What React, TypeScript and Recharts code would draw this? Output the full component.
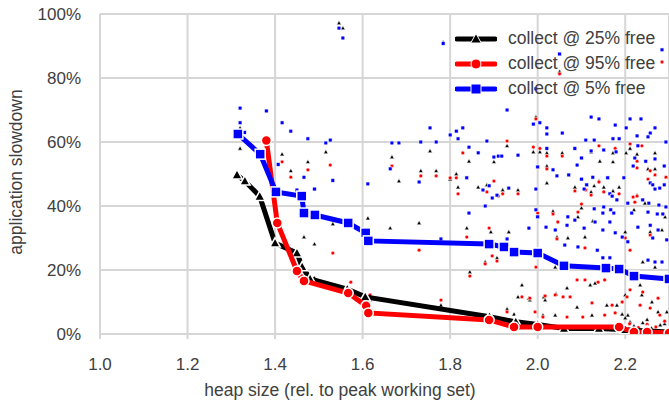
import { CartesianGrid, Label, Scatter, ScatterChart, XAxis, YAxis } from "recharts";

type Pt = { x: number; y: number };
const pts = (a: number[][]): Pt[] => a.map(([x, y]) => ({ x, y }));

/* main curves: heap size vs slowdown (%) */
const collect25 = pts([
  [1.313, 49.7], [1.331, 47.8], [1.365, 43], [1.4, 28.4], [1.45, 25.3],
  [1.462, 21], [1.48, 17.2], [1.565, 14], [1.606, 11.6], [1.89, 5.4],
  [1.95, 3.8], [2.0, 3], [2.06, 1.7], [2.14, 1.7], [2.2, 1.3], [2.25, 0.9],
  [2.3, 0.6],
]);
const collect95 = pts([
  [1.38, 60.5], [1.405, 34.7], [1.45, 19.7], [1.466, 16.6], [1.567, 12.8],
  [1.608, 8.8], [1.613, 6.6], [1.889, 4.4], [1.946, 2.2], [2.0, 2.2],
  [2.186, 2.2], [2.22, 0.6], [2.25, 0.6], [2.3, 0.3],
]);
const collect5 = pts([
  [1.315, 62.5], [1.366, 56.2], [1.402, 44.4], [1.461, 43.1], [1.466, 37.8],
  [1.491, 37.2], [1.567, 34.7], [1.607, 31.6], [1.613, 29.1], [1.889, 28.1],
  [1.923, 27.2], [1.946, 25.6], [2.0, 25.3], [2.06, 21.3], [2.156, 20.6],
  [2.186, 20.3], [2.22, 18.1], [2.3, 17.2],
]);

/* individual runs, drawn as small marks */
const dots25 = pts([
  [1.32, 64.4], [1.32, 58], [1.416, 56.2], [1.475, 53.8], [1.516, 56.9], [1.436, 51],
  [1.667, 55.3], [1.683, 47.8], [1.532, 34.4], [1.612, 36.2], [1.663, 33.1], [1.466, 30.3],
  [1.49, 28.1], [1.49, 17.5], [1.617, 10.6], [1.546, 97.2], [1.555, 95.6], [1.784, 91.2],
  [1.754, 57.2], [1.843, 54], [1.9, 53.8], [1.93, 58.8], [1.733, 51], [1.768, 51],
  [1.814, 50], [1.8, 48.4], [1.818, 45.9], [1.864, 45.9], [1.884, 46.6], [1.92, 45],
  [1.729, 34.7], [1.838, 33.1], [1.893, 31.9], [1.934, 31.9], [1.88, 22.5], [1.907, 23.8],
  [1.845, 19.4], [1.779, 9], [1.93, 7.8], [1.946, 6.2], [1.996, 67.8], [1.99, 56.9],
  [2.005, 56.9], [2.021, 56.6], [2.056, 56.6], [2.122, 56.9], [2.172, 56.6], [2.211, 58],
  [2.202, 56.6], [2.227, 56.2], [2.268, 56.6], [2.142, 54], [2.172, 53.8], [2.021, 52.5],
  [2.252, 51.6], [2.268, 51.6], [1.955, 45], [2.021, 47.2], [2.085, 45.9], [2.129, 46.3],
  [2.151, 45.9], [2.186, 45.9], [2.14, 47.8], [2.122, 44.4], [2.172, 44.7], [2.227, 43.4],
  [2.245, 40.9], [2.035, 38.4], [2.1, 39.4], [2.22, 38.8], [2.291, 36.6], [2.092, 36.6],
  [2.044, 30.3], [2.069, 30], [2.108, 30.3], [2.126, 35.3], [2.2, 31.9], [2.257, 31.9],
  [2.284, 32.5], [2.04, 20.9], [2.24, 22.5], [2.268, 20.9], [1.964, 15.3], [1.982, 10.6],
  [2.017, 10.6], [2.067, 14.4], [2.09, 8.4], [2.12, 15.3], [2.131, 15.9], [2.158, 9],
  [2.181, 9], [2.2, 12.2], [2.206, 5.9], [2.234, 15.3], [2.238, 12.2], [2.261, 10],
  [2.275, 6.9], [2.295, 6.9], [2.012, 5.9], [2.04, 5.9], [2.124, 5.9], [2.193, 6.2],
  [2.2, 5], [2.211, 3.8], [1.955, 11.6], [1.98, 11.2], [2.014, 11.6], [2.042, 12.5],
  [2.22, 2.5], [2.24, 3.5], [2.26, 1.8], [2.28, 2.8], [2.25, 4.5], [2.29, 3.2],
  [2.27, 1.2], [2.05, 82],
]);
const dots95 = pts([
  [1.416, 53.8], [1.475, 51.3], [1.526, 52.8], [1.436, 49], [1.667, 52.5], [1.829, 56.6],
  [1.93, 60.3], [1.733, 49.4], [1.768, 49.4], [1.8, 48.8], [1.814, 48.8], [1.818, 43.8],
  [1.9, 47.8], [1.884, 44.4], [1.91, 43.1], [1.92, 43.8], [1.838, 30.3], [1.889, 33.1],
  [1.729, 26.2], [1.896, 24.4], [1.88, 21.9], [1.907, 22.8], [1.845, 18.1], [1.779, 10.6],
  [1.93, 6.9], [1.617, 12.2], [1.532, 25.3], [1.573, 16.2], [1.996, 67.2], [1.99, 58.4],
  [2.005, 58], [2.021, 55.6], [2.056, 55.6], [2.14, 58.8], [2.177, 58], [2.211, 59.4],
  [2.238, 58.8], [2.227, 54], [2.227, 51.9], [2.021, 51.6], [2.257, 51], [2.268, 49.7],
  [2.252, 48.4], [2.293, 49], [1.955, 43.8], [2.085, 44.7], [2.122, 43.4], [2.14, 47.5],
  [2.151, 44.4], [2.186, 43.8], [2.218, 42.8], [2.227, 43.1], [2.11, 45], [2.1, 40.6],
  [2.222, 41.2], [2.092, 38.1], [2.0, 37.8], [2.035, 37.5], [2.046, 35], [2.044, 29.7],
  [2.108, 26.9], [2.2, 30], [2.211, 26.2], [2.257, 30.9], [1.996, 20.9], [1.964, 11.6],
  [1.982, 11.2], [2.017, 11.9], [2.04, 12.2], [2.058, 11.6], [2.074, 11.6], [2.09, 16.9],
  [2.108, 16.9], [2.124, 9.7], [2.138, 16.2], [2.153, 16.9], [2.17, 9], [2.177, 6.6],
  [2.193, 10], [2.204, 11.6], [2.211, 13.8], [2.234, 9], [2.24, 13.1], [2.257, 8.1],
  [2.275, 11.2], [2.279, 5.9], [1.994, 6.9], [2.012, 5.3], [2.067, 5.3], [2.103, 5.3],
  [2.153, 5.9], [2.23, 2], [2.25, 3], [2.27, 2.2], [2.29, 4], [2.21, 3.2],
  [2.05, 81.3], [2.284, 85],
]);
const dots5 = pts([
  [1.32, 70.6], [1.38, 69.7], [1.32, 66], [1.33, 63], [1.416, 66], [1.436, 63.4],
  [1.475, 61], [1.516, 59.7], [1.526, 60.6], [1.407, 53], [1.466, 49], [1.45, 45],
  [1.49, 45.3], [1.532, 48], [1.612, 46.9], [1.667, 59.7], [1.683, 59.7], [1.663, 51.6],
  [1.729, 47.5], [1.546, 95.6], [1.555, 92.5], [1.784, 90.8], [1.93, 70], [1.754, 64.4],
  [1.8, 62.2], [1.814, 63.4], [1.829, 64.4], [1.733, 60], [1.768, 60], [1.818, 61],
  [1.884, 60.3], [1.843, 58.4], [1.864, 56.6], [1.9, 55.3], [1.91, 55.6], [1.918, 55.6],
  [1.838, 48.8], [1.889, 46.3], [1.875, 45], [1.934, 45.6], [1.907, 43.4], [1.896, 42.5],
  [1.88, 40], [1.843, 37.8], [1.779, 29.7], [1.93, 29.7], [2.122, 67.8], [2.14, 67.2],
  [2.211, 67.2], [2.236, 67.2], [1.99, 65.6], [2.005, 66], [2.177, 65.3], [2.021, 64.4],
  [2.202, 64.4], [2.268, 64.4], [2.021, 62.5], [2.056, 62.8], [2.257, 62.8], [2.227, 61.9],
  [2.252, 61.6], [2.172, 61], [2.11, 60.6], [2.129, 60.6], [2.186, 61], [2.293, 60],
  [2.229, 58.8], [2.021, 58], [2.085, 58], [2.122, 57.2], [2.151, 57.5], [2.179, 56.9],
  [1.955, 55.9], [2.1, 55], [2.222, 55], [2.247, 54], [2.268, 54.7], [2.09, 52.8],
  [2.218, 52.5], [2.289, 52.5], [2.0, 52.2], [2.035, 51.3], [2.044, 49.4], [2.071, 49.7],
  [2.126, 49], [2.1, 48.4], [2.16, 48.8], [2.197, 48.8], [2.257, 47.2], [2.263, 46.6],
  [2.289, 46.6], [2.268, 45.3], [2.279, 45.6], [1.996, 45.3], [2.112, 46.6], [2.106, 45.3],
  [2.165, 43.8], [2.17, 43.1], [2.181, 41.9], [2.24, 41.9], [2.206, 40.9], [2.254, 40.9],
  [2.277, 40.3], [2.293, 39.7], [2.151, 39.7], [2.129, 39.1], [2.167, 38.8], [1.996, 38.8],
  [2.149, 37.8], [2.174, 37.8], [2.215, 37.8], [2.252, 38.1], [2.273, 37.5], [2.286, 37.5],
  [2.069, 36.6], [2.0, 36.6], [1.98, 33.1], [2.019, 33.4], [2.04, 32.5], [2.067, 34],
  [2.085, 35.6], [2.106, 33.1], [2.131, 35], [2.149, 32.5], [2.165, 35], [2.177, 31.6],
  [2.193, 30.3], [2.206, 28.8], [2.229, 33.4], [2.257, 34], [2.263, 30], [2.275, 32.5],
  [2.295, 29.4], [2.062, 27.8], [2.092, 27.2], [2.136, 26.2], [2.149, 23.8], [2.165, 23.8],
  [2.252, 23.1], [2.268, 22.5], [2.284, 22.5], [2.05, 87.5], [2.284, 88.8], [1.996, 76.6],
]);

const xTicks = [1.0, 1.2, 1.4, 1.6, 1.8, 2.0, 2.2];
const yTicks = [0, 20, 40, 60, 80, 100];

const legendItems = [
  { name: "collect @ 25% free", color: "#000000", mark: "tri" },
  { name: "collect @ 95% free", color: "#ff0000", mark: "circle" },
  { name: "collect @ 5% free", color: "#0000ff", mark: "square" },
];

const FONT = "'Liberation Sans', Arial, sans-serif";
const TEXT = "#404040";
const GRID = "#d6d6d6";

const Mark = ({ cx, cy, kind, color, size, edge }: any) => {
  if (cx == null || cy == null) return null;
  const h = size / 2;
  if (kind === "tri")
    return (
      <polygon
        points={`${cx},${cy - h * 1.1} ${cx - h * 1.05},${cy + h * 0.8} ${cx + h * 1.05},${cy + h * 0.8}`}
        fill={color}
        stroke="#fff"
        strokeWidth={edge}
      />
    );
  if (kind === "circle")
    return <circle cx={cx} cy={cy} r={h} fill={color} stroke="#fff" strokeWidth={edge} />;
  return <rect x={cx - h} y={cy - h} width={size} height={size} fill={color} stroke="#fff" strokeWidth={edge} />;
};

const dot = (kind: string, color: string, size: number) => (p: any) =>
  <Mark cx={p.cx} cy={p.cy} kind={kind} color={color} size={size} edge={0.6} />;
const big = (kind: string, color: string, size: number) => (p: any) =>
  <Mark cx={p.cx} cy={p.cy} kind={kind} color={color} size={size} edge={1.5} />;

const ChartLegend = () => (
  <div style={{ position: "absolute", left: 455, top: 26, fontFamily: FONT, fontSize: 17.5, color: TEXT }}>
    {legendItems.map((it) => (
      <div key={it.name} style={{ display: "flex", alignItems: "center", height: 25 }}>
        <svg width={42} height={16} style={{ marginRight: 11 }}>
          <line x1={2} y1={8} x2={40} y2={8} stroke={it.color} strokeWidth={5} strokeLinecap="round" />
          <Mark cx={21} cy={8} kind={it.mark} color={it.color} size={10} edge={1} />
        </svg>
        <span>{it.name}</span>
      </div>
    ))}
  </div>
);

export default function App() {
  return (
    <div style={{ position: "absolute", left: 0, top: 0, width: 669, height: 403, background: "#fff" }}>
      <ScatterChart width={669} height={403} margin={{ top: 14, right: 0, bottom: 0, left: 0 }}>
        <CartesianGrid stroke={GRID} strokeWidth={2} />
        <XAxis
          type="number"
          dataKey="x"
          domain={[1, 2.3]}
          ticks={xTicks}
          allowDataOverflow
          height={69}
          tickFormatter={(v: number) => v.toFixed(1)}
          tick={{ fill: TEXT, fontSize: 17, fontFamily: FONT }}
          tickSize={5}
          tickMargin={19}
          stroke={GRID}
          strokeWidth={2}
        >
          <Label
            content={() => (
              <text x={340} y={396} textAnchor="middle" fill={TEXT} fontSize={17.5} fontFamily={FONT}>
                heap size (rel. to peak working set)
              </text>
            )}
          />
        </XAxis>
        <YAxis
          type="number"
          dataKey="y"
          domain={[0, 100]}
          ticks={yTicks}
          allowDataOverflow
          width={100}
          tickFormatter={(v: number) => `${v}%`}
          tick={{ fill: TEXT, fontSize: 17, fontFamily: FONT }}
          tickLine={false}
          tickSize={0}
          tickMargin={19}
          stroke={GRID}
          strokeWidth={2}
        >
          <Label
            content={() => (
              <text
                x={22}
                y={172}
                transform="rotate(-90 22 172)"
                textAnchor="middle"
                fill={TEXT}
                fontSize={17.5}
                fontFamily={FONT}
              >
                application slowdown
              </text>
            )}
          />
        </YAxis>
        <Scatter data={dots25} shape={dot("tri", "#000", 4.4)} isAnimationActive={false} />
        <Scatter data={dots95} shape={dot("circle", "#ff0000", 3.8)} isAnimationActive={false} />
        <Scatter data={dots5} shape={dot("square", "#0000ff", 3.8)} isAnimationActive={false} />
        <Scatter
          data={collect25}
          line={{ stroke: "#000", strokeWidth: 5 }}
          shape={big("tri", "#000", 10)}
          isAnimationActive={false}
        />
        <Scatter
          data={collect95}
          line={{ stroke: "#ff0000", strokeWidth: 5 }}
          shape={big("circle", "#ff0000", 10)}
          isAnimationActive={false}
        />
        <Scatter
          data={collect5}
          line={{ stroke: "#0000ff", strokeWidth: 5 }}
          shape={big("square", "#0000ff", 10)}
          isAnimationActive={false}
        />
      </ScatterChart>
      <ChartLegend />
    </div>
  );
}
